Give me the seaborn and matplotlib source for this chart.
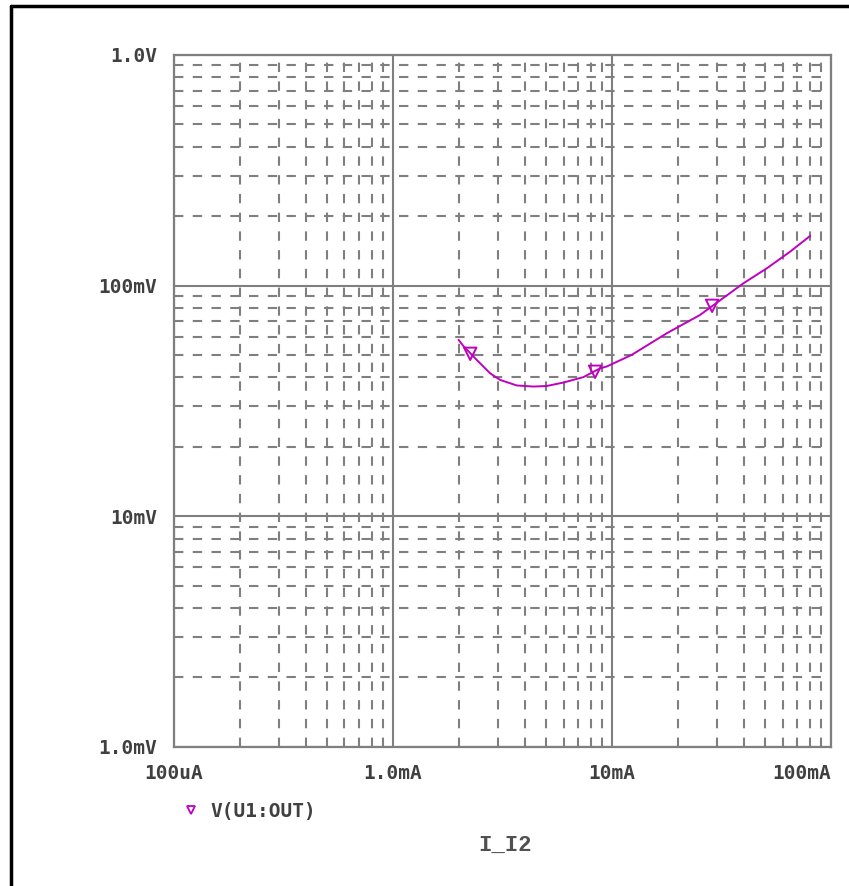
import numpy as np
import pandas as pd
import matplotlib
matplotlib.use("Agg")
import matplotlib.pyplot as plt
import matplotlib.ticker as mticker
from matplotlib.lines import Line2D
import seaborn as sns

# curve (current in mA, voltage in mV)
current_mA = [1.99, 2.09, 2.41, 2.77, 3.08, 3.67, 4.37, 5.03, 6.0, 7.39, 8.82,
              9.46, 12.3, 17.8, 25.2, 39.8, 50.9, 65.0, 80.2]
voltage_mV = [58.2, 54.8, 47.6, 41.7, 39.0, 36.9, 36.5, 36.7, 38.0, 40.1, 43.8,
              44.6, 50.1, 62.2, 74.6, 102.4, 118.9, 140.4, 164.2]

# PSpice symbol markers on the trace
marker_mA = [2.25, 8.36, 28.6]
marker_mV = [50.6, 42.3, 81.7]

x_ticks = [1e-4, 1e-3, 1e-2, 1e-1]
x_labels = ["100uA", "1.0mA", "10mA", "100mA"]
y_ticks = [1e-3, 1e-2, 1e-1, 1.0]
y_labels = ["1.0mV", "10mV", "100mV", "1.0V"]

series_name = "V(U1:OUT)"
x_title = "I_I2"

df = pd.DataFrame({"I": np.array(current_mA) / 1000, "V": np.array(voltage_mV) / 1000})
mk = pd.DataFrame({"I": np.array(marker_mA) / 1000, "V": np.array(marker_mV) / 1000})

sns.set_style("white")
plt.rcParams["font.family"] = ["DejaVu Sans Mono", "DejaVu Sans"]

purple = "#c000c0"
grid_col = "#7f7f7f"
text_col = "#404040"

fig = plt.figure(figsize=(8.49, 8.86), dpi=100)
ax = fig.add_axes([0.205, 0.157, 0.774, 0.781])

sns.lineplot(data=df, x="I", y="V", ax=ax, color=purple, lw=1.4, zorder=5)
ax.scatter(mk["I"], mk["V"], marker="v", s=80, facecolors="none",
           edgecolors=purple, linewidths=1.4, zorder=6)

ax.set_xscale("log")
ax.set_yscale("log")
ax.set_xlim(1e-4, 1e-1)
ax.set_ylim(1e-3, 1.0)

ax.xaxis.set_minor_locator(mticker.LogLocator(base=10, subs=np.arange(2, 10)))
ax.yaxis.set_minor_locator(mticker.LogLocator(base=10, subs=np.arange(2, 10)))
ax.xaxis.set_minor_formatter(mticker.NullFormatter())
ax.yaxis.set_minor_formatter(mticker.NullFormatter())
ax.set_xticks(x_ticks)
ax.set_xticklabels(x_labels)
ax.set_yticks(y_ticks)
ax.set_yticklabels(y_labels)

ax.grid(which="major", color=grid_col, lw=1.5, ls="-")
ax.grid(which="minor", color=grid_col, lw=1.5, ls=(0, (4.5, 4.5)))
ax.set_axisbelow(True)

for s in ax.spines.values():
    s.set_color(grid_col)
    s.set_linewidth(1.6)

ax.tick_params(which="major", direction="out", length=8, width=1.5, color=grid_col,
               labelsize=14, labelcolor=text_col, pad=4)
ax.tick_params(which="minor", direction="in", length=5, width=1.5, color=grid_col)
for lab in ax.get_xticklabels() + ax.get_yticklabels():
    lab.set_fontweight("bold")
ax.get_xticklabels()[-1].set_horizontalalignment("right")
ax.get_xticklabels()[-1].set_x(1e-1)

ax.set_xlabel("")
ax.set_ylabel("")
fig.text(0.5945, 0.046, x_title, ha="center", va="center", fontsize=16,
         family="Liberation Mono", fontweight="bold", color="#505050")

handle = Line2D([], [], ls="none", marker="v", markersize=6, mfc="none",
                mec=purple, mew=1.3)
leg = ax.legend([handle], [series_name], loc="center left",
                bbox_to_anchor=(0.198, 0.084), bbox_transform=fig.transFigure,
                frameon=False, handlelength=0.6, handletextpad=0.7,
                prop={"family": "DejaVu Sans Mono", "weight": "bold", "size": 14})
for t in leg.get_texts():
    t.set_color(text_col)

# outer frame (only left and top edges are visible)
fig.add_artist(Line2D([0.0135, 0.0135], [0, 0.9927], color="black", lw=2.5,
                      transform=fig.transFigure))
fig.add_artist(Line2D([0.0135, 1.0], [0.9927, 0.9927], color="black", lw=2.5,
                      transform=fig.transFigure))

fig.savefig("out.png", dpi=100)
